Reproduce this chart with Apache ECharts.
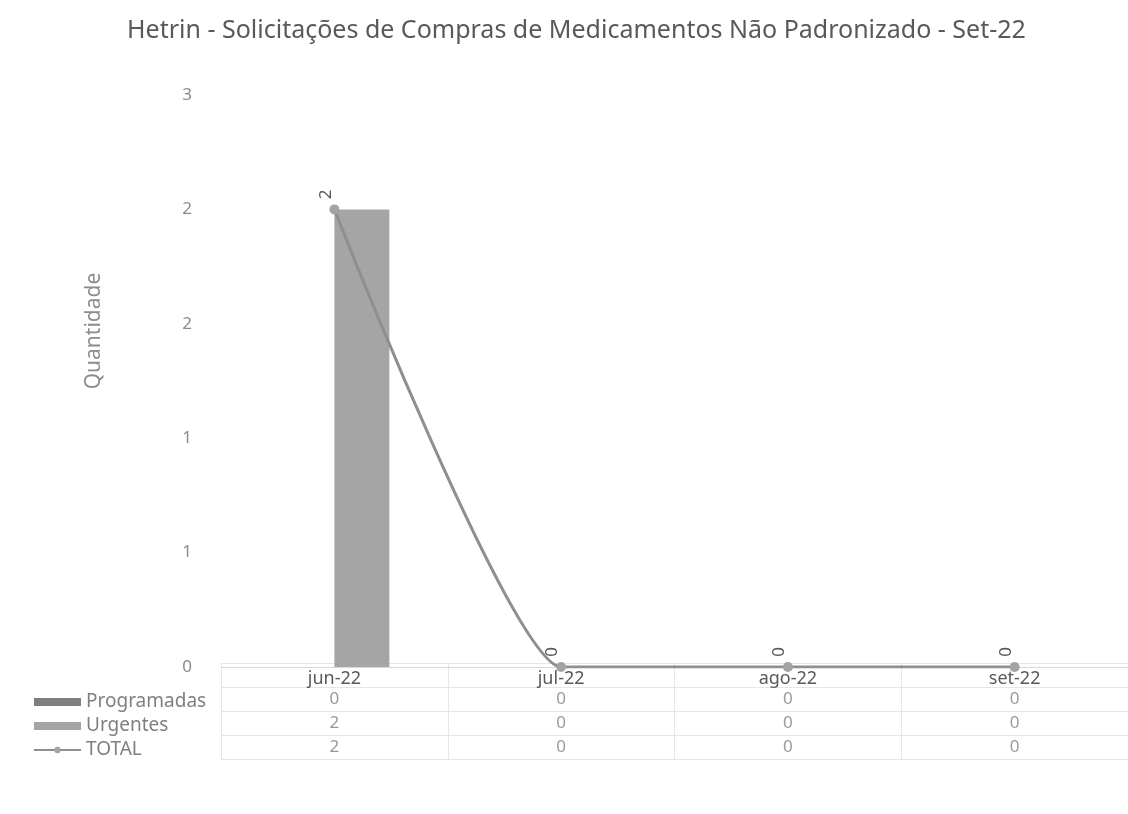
<!DOCTYPE html>
<html>
<head>
<meta charset="utf-8">
<script src="https://cdn.jsdelivr.net/npm/echarts@6/dist/echarts.min.js"></script>
<style>
  html, body { margin: 0; padding: 0; background: #fff; }
  #chart { width: 1128px; height: 814px; }
</style>
</head>
<body>
<div id="chart"></div>
<script>
// months shown on the category axis
const months = ["jun-22", "jul-22", "ago-22", "set-22"];

// series values
const programadas = [0, 0, 0, 0];
const urgentes = [2, 0, 0, 0];
const total = [2, 0, 0, 0];

// y ticks: Excel shows 0.5 steps rounded to integers
const yMin = 0;
const yMax = 2.5;
const yStep = 0.5;

// data table rows (first row is the header with the month labels)
const tableRows = ["", "Programadas", "Urgentes", "TOTAL"];

const FONT = "'Noto Sans', 'Open Sans', sans-serif";
const TXT = "#595959";
const GRIDLINE = "#e6e6e6";

const myChart = echarts.init(document.getElementById("chart"), null, { renderer: "canvas" });

// cells of the table, one scatter point per value
const rowValues = { Programadas: programadas, Urgentes: urgentes, TOTAL: total };
const cells = [];
tableRows.slice(1).forEach((row) => {
  rowValues[row].forEach((v, i) => cells.push([months[i], row, v]));
});

const option = {
  backgroundColor: "#fff",
  textStyle: { fontFamily: FONT },
  title: {
    text: "Hetrin - Solicitações de Compras de Medicamentos Não Padronizado - Set-22",
    left: 122,
    top: 13,
    textStyle: { fontFamily: FONT, fontSize: 25, fontWeight: "normal", color: TXT },
  },
  legend: {
    orient: "vertical",
    left: 28,
    top: 687,
    itemWidth: 47,
    itemHeight: 8,
    itemGap: 4,
    selectedMode: false,
    textStyle: { fontFamily: FONT, fontSize: 19, color: "#7f7f7f", lineHeight: 20 },
    data: [
      { name: "Programadas", icon: "rect" },
      { name: "Urgentes", icon: "rect" },
      "TOTAL",
    ],
  },
  grid: [
    { left: 221, right: 0, top: 95, bottom: 147 },
    { left: 221, right: 0, top: 663, height: 96 },
  ],
  xAxis: [
    {
      type: "category",
      gridIndex: 0,
      data: months,
      axisLine: { lineStyle: { color: "#d9d9d9" } },
      axisTick: { show: false },
      axisLabel: { color: TXT, fontSize: 18, margin: 3 },
    },
    {
      type: "category",
      gridIndex: 1,
      data: months,
      axisLine: { show: false },
      axisTick: { show: false },
      axisLabel: { show: false },
      splitLine: { show: true, lineStyle: { color: GRIDLINE } },
    },
  ],
  yAxis: [
    {
      type: "value",
      gridIndex: 0,
      min: yMin,
      max: yMax,
      interval: yStep,
      name: "Quantidade",
      nameLocation: "middle",
      nameRotate: 90,
      nameGap: 116,
      nameTextStyle: { color: "#8c8c8c", fontSize: 21, padding: [0, 0, 0, 100] },
      axisLine: { show: false },
      axisTick: { show: false },
      splitLine: { show: false },
      axisLabel: {
        color: "#8c8c8c",
        fontSize: 17,
        margin: 34,
        align: "center",
        formatter: (v) => String(Math.round(v)),
      },
    },
    {
      type: "category",
      gridIndex: 1,
      inverse: true,
      data: tableRows,
      axisLine: { show: false },
      axisTick: { show: false },
      axisLabel: { show: false },
      splitLine: { show: true, lineStyle: { color: GRIDLINE } },
    },
  ],
  series: [
    {
      name: "Programadas",
      type: "bar",
      xAxisIndex: 0,
      yAxisIndex: 0,
      data: programadas,
      barWidth: 55,
      barGap: "0%",
      itemStyle: { color: "#7f7f7f" },
    },
    {
      name: "Urgentes",
      type: "bar",
      xAxisIndex: 0,
      yAxisIndex: 0,
      data: urgentes,
      barWidth: 55,
      barGap: "0%",
      itemStyle: { color: "#a5a5a5" },
    },
    {
      name: "TOTAL",
      type: "line",
      xAxisIndex: 0,
      yAxisIndex: 0,
      data: total,
      smooth: 0.15,
      symbol: "circle",
      symbolSize: 10,
      lineStyle: { color: "#8f8f8f", width: 3 },
      itemStyle: { color: "#a3a3a3" },
      label: {
        show: true,
        position: "top",
        rotate: 90,
        distance: 10,
        color: TXT,
        fontSize: 17,
      },
      z: 5,
    },
    {
      name: "cells",
      type: "scatter",
      xAxisIndex: 1,
      yAxisIndex: 1,
      data: cells,
      symbolSize: 0,
      silent: true,
      label: {
        show: true,
        position: "inside",
        color: "#7f7f7f",
        fontSize: 17,
        formatter: (p) => String(p.value[2]),
      },
    },
  ],
};

myChart.setOption(option);
window.addEventListener("resize", () => myChart.resize());
</script>
</body>
</html>
